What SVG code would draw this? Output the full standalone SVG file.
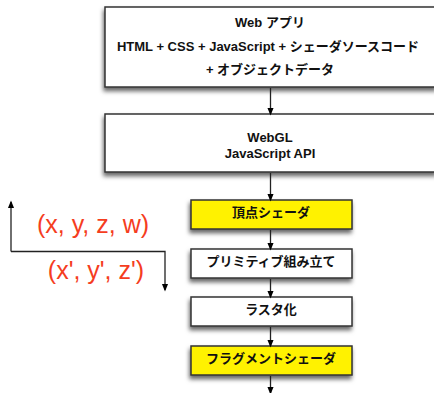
<svg xmlns="http://www.w3.org/2000/svg" width="434" height="393" viewBox="0 0 434 393">
<defs>
<filter id="sh" x="-10%" y="-20%" width="120%" height="170%">
<feDropShadow dx="-1" dy="3.5" stdDeviation="2.2" flood-color="#000" flood-opacity="0.6"/>
</filter>
<marker id="ah" markerWidth="8" markerHeight="10" refX="8" refY="4" orient="auto" markerUnits="userSpaceOnUse" viewBox="0 0 10 8">
<path d="M0,0 L10,4 L0,8 Z" fill="#000"/>
</marker>
</defs>
<style>
.box{stroke:#333;stroke-width:1.5;filter:url(#sh)}
.w{fill:#fff}
.y{fill:#fff200}
.t{font-family:"Liberation Sans","Noto Sans CJK JP",sans-serif;font-weight:bold;font-size:13px;fill:#111;text-anchor:middle}
.r{font-family:"Liberation Sans","Noto Sans CJK JP",sans-serif;font-size:25px;fill:#f53d1e;text-anchor:middle}
.c{fill:none;stroke:#222;stroke-width:1.3;marker-end:url(#ah)}
</style>
<g id="webapp">
<rect class="box w" x="105" y="7" width="332" height="80"/>
<text class="t" x="270" y="27">Web アプリ</text>
<text class="t" x="268" y="51">HTML + CSS + JavaScript + シェーダソースコード</text>
<text class="t" x="270" y="74">+ オブジェクトデータ</text>
</g>
<g id="webgl">
<rect class="box w" x="105" y="114" width="332" height="58"/>
<text class="t" x="270" y="142">WebGL</text>
<text class="t" x="270" y="158">JavaScript API</text>
</g>
<g id="vertex">
<rect class="box y" x="191" y="200" width="161" height="29"/>
<text class="t" x="271" y="217">頂点シェーダ</text>
</g>
<g id="primitive">
<rect class="box w" x="191" y="249" width="161" height="29"/>
<text class="t" x="271" y="266">プリミティブ組み立て</text>
</g>
<g id="raster">
<rect class="box w" x="191" y="297" width="161" height="29"/>
<text class="t" x="271" y="314">ラスタ化</text>
</g>
<g id="fragment">
<rect class="box y" x="191" y="346" width="161" height="29"/>
<text class="t" x="271" y="363">フラグメントシェーダ</text>
</g>
<g id="connectors">
<line class="c" x1="270.5" y1="88" x2="270.5" y2="114"/>
<line class="c" x1="270.5" y1="173" x2="270.5" y2="200"/>
<line class="c" x1="270.5" y1="230" x2="270.5" y2="249"/>
<line class="c" x1="270.5" y1="279" x2="270.5" y2="297"/>
<line class="c" x1="270.5" y1="327" x2="270.5" y2="346"/>
<line class="c" x1="270.5" y1="376" x2="270.5" y2="393"/>
<polyline class="c" points="11,251.5 11,202"/>
<polyline class="c" points="11,251.5 165,251.5 165,290"/>
</g>
<text class="r" x="93" y="233">(x, y, z, w)</text>
<text class="r" x="96" y="279">(x', y', z')</text>
</svg>
